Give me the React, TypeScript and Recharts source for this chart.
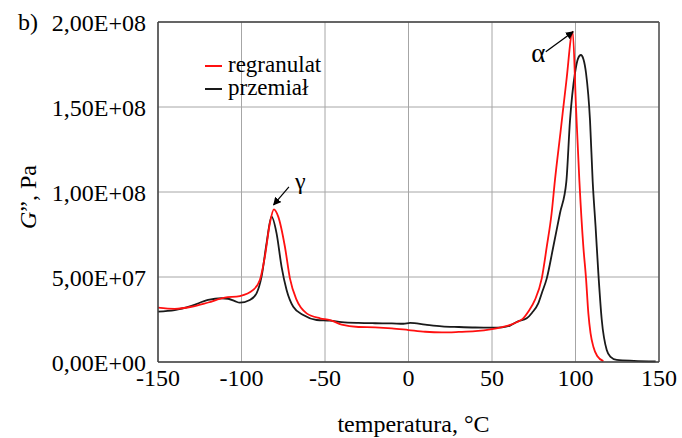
import React from "react"
import { LineChart, Line, XAxis, YAxis, CartesianGrid, ReferenceLine, ReferenceDot } from "recharts"

// temperatura [°C] and G'' [Pa]
const regranulatT = [-150, -140, -130, -120, -110, -101, -93, -89, -86, -83, -80.6, -78, -74, -71, -67, -61, -53, -47, -40, -30, -20, -10, 0, 10, 20, 30, 40, 50, 56, 61, 65, 68.7, 72, 75.7, 79.8, 82.8, 85.7, 87.7, 91, 94.5, 98.3, 100.3, 102.3, 104.7, 106.3, 107.7, 109, 110.7, 113, 116.7]
const regranulatG = [32e6, 31.3e6, 32.5e6, 35e6, 37.8e6, 38.8e6, 42.4e6, 48.2e6, 62e6, 81.6e6, 89.8e6, 85.5e6, 67.8e6, 49.2e6, 36.5e6, 28.6e6, 25.7e6, 24.7e6, 22e6, 20.6e6, 20.4e6, 19.8e6, 18.8e6, 17.8e6, 17.4e6, 17.7e6, 18.2e6, 19.4e6, 20.5e6, 21.8e6, 23.5e6, 25.7e6, 30e6, 36.5e6, 49.2e6, 67.8e6, 87.5e6, 107e6, 135e6, 165e6, 194.3e6, 150e6, 107e6, 67.8e6, 49.2e6, 28.6e6, 17e6, 9e6, 3.5e6, 0.5e6]

const przemialT = [-150, -140, -130, -120, -112, -108, -104, -101, -95, -91, -88, -85, -82, -79, -76, -73, -69, -63, -55, -47, -40, -30, -20, -10, -3, 1, 10, 20, 30, 40, 50, 56, 60.8, 65, 70.8, 74, 77.7, 80, 82.8, 86.7, 90.7, 94.5, 96.7, 99.7, 101.5, 103.2, 104.8, 106.3, 108.7, 110.3, 112, 113.7, 115.7, 118.7, 121, 124.7, 135, 148]
const przemialG = [29.6e6, 30.5e6, 33e6, 36.5e6, 37.5e6, 37.2e6, 35.8e6, 34.9e6, 36.5e6, 40.4e6, 50.2e6, 69.8e6, 85.5e6, 75.7e6, 56e6, 42.4e6, 32.5e6, 27.6e6, 24.7e6, 24.3e6, 23.5e6, 23e6, 22.8e6, 22.7e6, 22.5e6, 23e6, 22e6, 21e6, 20.6e6, 20.3e6, 20.2e6, 20.4e6, 21.4e6, 23.7e6, 25.7e6, 29e6, 34.5e6, 41e6, 49.2e6, 67.8e6, 87.5e6, 106e6, 142e6, 170e6, 178.5e6, 180.6e6, 178e6, 170e6, 142e6, 106e6, 80e6, 52e6, 25e6, 7e6, 3e6, 1.2e6, 0.7e6, 0.4e6]

const xTicks = [-150, -100, -50, 0, 50, 100, 150]
const yTicks = [0, 5e7, 1e8, 1.5e8, 2e8]

const regranulatData = regranulatT.map((t, i) => ({ t, g: regranulatG[i] }))
const przemialData = przemialT.map((t, i) => ({ t, g: przemialG[i] }))

const font = '"Liberation Serif", "Times New Roman", serif'

function fmtSci(v: number) {
  if (v === 0) return "0,00E+00"
  const e = Math.floor(Math.log10(v))
  const m = v / Math.pow(10, e)
  return `${m.toFixed(2).replace(".", ",")}E+${String(e).padStart(2, "0")}`
}

export default function App() {
  const tick = { fill: "#000", fontSize: 24 }
  return (
    <div className="fig" style={{ position: "absolute", left: 0, top: 0, width: 682, height: 438, background: "#fff" }}>
      <style>{`.fig, .fig div, .fig svg text, .fig svg tspan { font-family: ${font} !important; }`}</style>
      <svg width="0" height="0" style={{ position: "absolute" }}>
        <defs>
          <marker id="arr" viewBox="0 0 10 10" refX="9" refY="5" markerWidth="8" markerHeight="8" orient="auto" markerUnits="userSpaceOnUse">
            <path d="M0,0 L10,5 L0,10 z" fill="#000" />
          </marker>
        </defs>
      </svg>
      <LineChart width={682} height={438} margin={{ top: 22, right: 23, bottom: 0, left: 0 }}>
        <CartesianGrid stroke="#a6a6a6" strokeWidth={1} />
        <XAxis
          dataKey="t"
          type="number"
          domain={[-150, 150]}
          ticks={xTicks}
          allowDataOverflow
          height={76}
          tickLine={false}
          tickSize={0}
          tickMargin={7}
          tick={tick}
          stroke="#404040"
          strokeWidth={1.5}
          label={{ value: "temperatura, °C", position: "insideBottom", offset: 6, dx: 5, fill: "#000", fontSize: 24 }}
        />
        <YAxis
          type="number"
          domain={[0, 2e8]}
          ticks={yTicks}
          width={158}
          tickLine={false}
          tickSize={0}
          tickMargin={12}
          tick={tick}
          tickFormatter={fmtSci}
          stroke="#404040"
          strokeWidth={1.5}
          label={{
            content: () => (
              <text x={36} y={197} transform="rotate(-90 36 197)" textAnchor="middle" fontSize={24} fill="#000">
                <tspan fontStyle="italic">G</tspan>
                <tspan>”, Pa</tspan>
              </text>
            ),
          }}
        />
        <ReferenceLine y={2e8} stroke="#404040" strokeWidth={1.5} />
        <ReferenceLine x={150} stroke="#555" strokeWidth={1.5} />
        <Line data={przemialData} dataKey="g" type="monotone" stroke="#1a1a1a" strokeWidth={1.8} dot={false} isAnimationActive={false} />
        <Line data={regranulatData} dataKey="g" type="monotone" stroke="#ff1010" strokeWidth={1.8} dot={false} isAnimationActive={false} />
        <ReferenceLine segment={[{ x: -71.6, y: 103e6 }, { x: -80.8, y: 92.4e6 }]} stroke="#000" strokeWidth={1.2} markerEnd="url(#arr)" ifOverflow="visible" />
        <ReferenceLine segment={[{ x: 82.2, y: 182.5e6 }, { x: 98.6, y: 194.3e6 }]} stroke="#000" strokeWidth={1.3} markerEnd="url(#arr)" ifOverflow="visible" />
        <ReferenceDot x={-64.8} y={106.5e6} r={0} fill="none" stroke="none" label={{ value: "γ", position: "center", fill: "#000", fontSize: 24 }} />
        <ReferenceDot x={77.7} y={182.4e6} r={0} fill="none" stroke="none" label={{ value: "α", position: "center", fill: "#000", fontSize: 27 }} />
      </LineChart>
      <div style={{ position: "absolute", left: 18, top: 8, fontSize: 24, lineHeight: "28px" }}>b)</div>
      <div style={{ position: "absolute", left: 205, top: 53, fontSize: 23, lineHeight: "23px" }}>
        <div style={{ display: "flex", alignItems: "center" }}>
          <span style={{ display: "inline-block", width: 17, height: 2, background: "#ff1010", marginRight: 6, marginTop: 2 }} />
          regranulat
        </div>
        <div style={{ display: "flex", alignItems: "center" }}>
          <span style={{ display: "inline-block", width: 17, height: 2, background: "#1a1a1a", marginRight: 6, marginTop: 2 }} />
          przemiał
        </div>
      </div>
    </div>
  )
}
